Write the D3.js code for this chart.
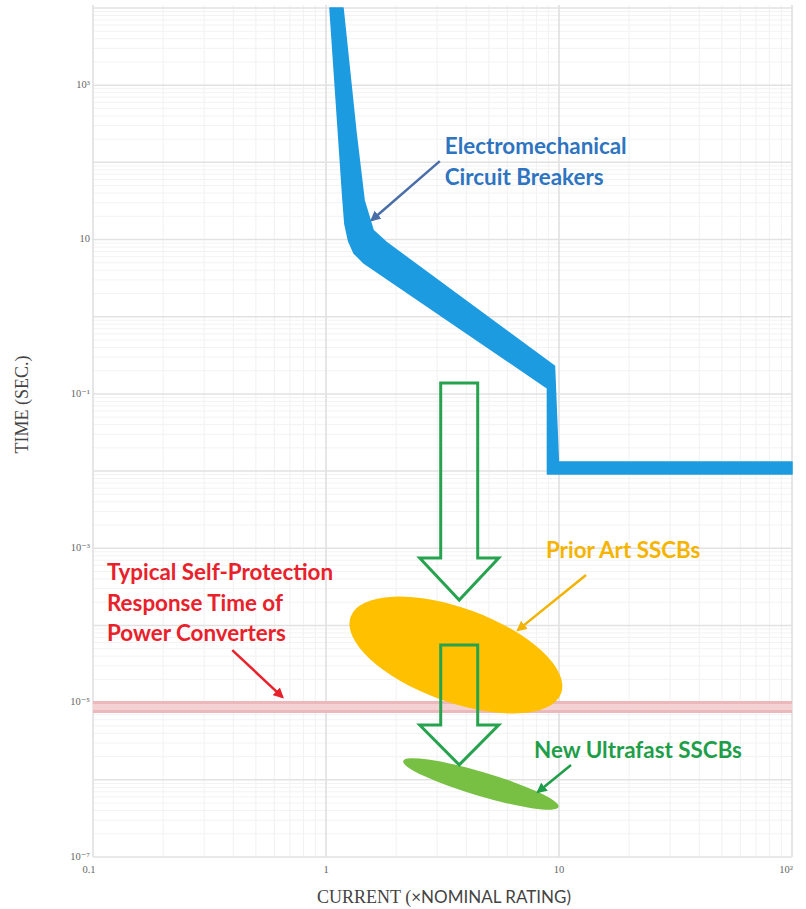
<!DOCTYPE html>
<html><head><meta charset="utf-8">
<script src="https://cdn.jsdelivr.net/npm/d3@7"></script>
<style>body{margin:0;background:#fff}svg{display:block}</style>
</head><body>
<svg id="chart" width="806" height="909"></svg>
<script>
// ---- data ----
const xTickValues = [0.1, 1, 10, 100];
const xTickLabels = ["0.1", "1", "10", "10²"];
const yTickValues = [1e3, 1e1, 1e-1, 1e-3, 1e-5, 1e-7];
const yTickLabels = ["10³", "10", "10⁻¹", "10⁻³", "10⁻⁵", "10⁻⁷"];

// Electromechanical breaker trip band [current (x nominal), time (s)]
const emcbUpper = [[1.183,1e4],[1.346,239],[1.457,32.4],[1.593,13.2],[1.81,9.25],[9.56,0.229],[9.94,0.0131],[100,0.0131]];
const emcbLower = [[1.040,1e4],[1.183,32.4],[1.205,16],[1.25,9.6],[1.319,6.67],[1.457,4.94],[8.92,0.119],[8.92,0.00914],[100,0.00914]];

// Power converter self-protection time
const converterTime = [8.8e-6];

// SSCB regions: centre [current, time]
const priorArtCenter = [3.61, 4.14e-5];
const ultrafastCenter = [4.62, 8.83e-7];

// Hollow "improvement" arrows: current, top time, head-base time, tip time
const bigArrows = [
  {current: 3.73, top: 0.138, base: 7.46e-4, tip: 2.13e-4},
  {current: 3.73, top: 5.57e-5, base: 5.13e-6, tip: 1.56e-6}
];

// Annotations [current, time]
const labels = [
  {lines: ["Electromechanical", "Circuit Breakers"], at: [3.235, 127.7], color: "#2e74c0"},
  {lines: ["Prior Art SSCBs"], at: [8.79, 7.46e-4], color: "#f5b400"},
  {lines: ["Typical Self-Protection", "Response Time of", "Power Converters"], at: [0.1148, 3.87e-4], color: "#e8212b"},
  {lines: ["New Ultrafast SSCBs"], at: [7.81, 1.91e-6], color: "#1f9e4a"}
];
const pointers = [
  {from: [3.08, 103.7], to: [1.57, 17.8], color: "#4a6ea8"},
  {from: [13.06, 4.5e-4], to: [6.66, 8.7e-5], color: "#f2b200"},
  {from: [0.396, 4.8e-5], to: [0.650, 1.18e-5], color: "#e8212b"},
  {from: [11.26, 1.56e-6], to: [8.12, 6.95e-7], color: "#1f9e4a"}
];

// ---- chart ----
const svg = d3.select("#chart");
const x = d3.scaleLog().domain([0.1, 100]).range([93, 792]);
const y = d3.scaleLog().domain([1e-7, 1e4]).range([857, 8]);
const [x0, x1] = x.range();
const [y0, y1] = y.range();

const grid = svg.append("g");
const isPow = v => Math.abs(Math.log10(v) - Math.round(Math.log10(v))) < 1e-9;
const xt = x.ticks(50), yt = y.ticks(100);
grid.selectAll(".vx").data(xt.filter(v => !isPow(v))).join("line")
  .attr("x1", d => x(d)).attr("x2", d => x(d)).attr("y1", y1 - 3).attr("y2", y0)
  .attr("stroke", "#f1f1f1").attr("stroke-width", 1);
grid.selectAll(".hy").data(yt.filter(v => !isPow(v))).join("line")
  .attr("y1", d => y(d)).attr("y2", d => y(d)).attr("x1", x0).attr("x2", x1)
  .attr("stroke", "#f3f3f3").attr("stroke-width", 1);
grid.selectAll(".vxm").data(xt.filter(isPow)).join("line")
  .attr("x1", d => x(d)).attr("x2", d => x(d)).attr("y1", y1 - 3).attr("y2", y0)
  .attr("stroke", "#dedede").attr("stroke-width", 1.5);
grid.selectAll(".hym").data(yt.filter(isPow)).join("line")
  .attr("y1", d => y(d)).attr("y2", d => y(d)).attr("x1", x0).attr("x2", x1)
  .attr("stroke", "#e2e2e2").attr("stroke-width", 1.5);

// tick labels
const tickFont = "'Liberation Serif','DejaVu Serif',serif";
svg.append("g").selectAll("text").data(yTickValues).join("text")
  .attr("x", x0 - 3).attr("y", d => y(d) - 1).attr("dy", "0.35em")
  .attr("text-anchor", "end").attr("font-family", tickFont).attr("font-size", 10.5)
  .attr("fill", "#666").text((d, i) => yTickLabels[i]);
svg.append("g").selectAll("text").data(xTickValues).join("text")
  .attr("x", (d, i) => x(d) + (i === 0 ? -4 : i === 3 ? -6 : 0)).attr("y", y0 + 16)
  .attr("text-anchor", "middle").attr("font-family", tickFont).attr("font-size", 10.5)
  .attr("fill", "#666").text((d, i) => xTickLabels[i]);

// axis titles
svg.append("text").attr("transform", `translate(28,${(y0 + y1) / 2 - 28}) rotate(-90)`)
  .attr("text-anchor", "middle").attr("font-family", tickFont).attr("font-size", 18)
  .attr("fill", "#444").text("TIME (SEC.)");
const xt2 = svg.append("text").attr("x", 317).attr("y", y0 + 46)
  .attr("fill", "#444");
xt2.append("tspan").attr("font-family", tickFont).attr("font-size", 18).text("CURRENT (");
xt2.append("tspan").attr("font-family", "Lato, sans-serif").attr("font-size", 17).text("×NOMINAL RATING)");

// converter line
svg.append("line").attr("x1", x0).attr("x2", x1)
  .attr("y1", y(converterTime[0])).attr("y2", y(converterTime[0]))
  .attr("stroke", "#ebb8bc").attr("stroke-width", 12);
svg.append("line").attr("x1", x0).attr("x2", x1)
  .attr("y1", y(converterTime[0])).attr("y2", y(converterTime[0]))
  .attr("stroke", "#f4d2d4").attr("stroke-width", 6);

// EMCB band
const band = emcbUpper.concat(emcbLower.slice().reverse());
svg.append("path").attr("d", d3.line().x(d => x(d[0])).y(d => y(d[1]))(band) + "Z")
  .attr("fill", "#1d9be0").attr("stroke", "#1d9be0").attr("stroke-width", 1.5)
  .attr("stroke-linejoin", "round");

// ellipses
svg.append("ellipse").attr("cx", x(priorArtCenter[0])).attr("cy", y(priorArtCenter[1]))
  .attr("rx", 112).attr("ry", 47)
  .attr("transform", `rotate(20 ${x(priorArtCenter[0])} ${y(priorArtCenter[1])})`)
  .attr("fill", "#ffc000");
svg.append("ellipse").attr("cx", x(ultrafastCenter[0])).attr("cy", y(ultrafastCenter[1]))
  .attr("rx", 81).attr("ry", 12)
  .attr("transform", `rotate(16.5 ${x(ultrafastCenter[0])} ${y(ultrafastCenter[1])})`)
  .attr("fill", "#78c043");

// hollow arrows
const shaftHalf = 18.5, headHalf = 39.5;
svg.append("g").selectAll("path").data(bigArrows).join("path")
  .attr("d", d => {
    const cx = x(d.current), t = y(d.top), b = y(d.base), p = y(d.tip);
    return d3.line()([[cx - shaftHalf, t], [cx + shaftHalf, t], [cx + shaftHalf, b], [cx + headHalf, b],
      [cx, p], [cx - headHalf, b], [cx - shaftHalf, b]]) + "Z";
  })
  .attr("fill", "none").attr("stroke", "#27a24f").attr("stroke-width", 3);

// pointers
const defs = svg.append("defs");
pointers.forEach((p, i) => {
  defs.append("marker").attr("id", "m" + i).attr("viewBox", "0 0 10 10")
    .attr("refX", 8).attr("refY", 5).attr("markerWidth", 4.2).attr("markerHeight", 4.2)
    .attr("orient", "auto").attr("markerUnits", "strokeWidth")
    .append("path").attr("d", "M0,0L10,5L0,10Z").attr("fill", p.color);
});
svg.append("g").selectAll("line").data(pointers).join("line")
  .attr("x1", d => x(d.from[0])).attr("y1", d => y(d.from[1]))
  .attr("x2", d => x(d.to[0])).attr("y2", d => y(d.to[1]))
  .attr("stroke", d => d.color).attr("stroke-width", 2.5)
  .attr("marker-end", (d, i) => `url(#m${i})`);

// labels
labels.forEach(l => {
  const t = svg.append("text").attr("x", x(l.at[0])).attr("y", y(l.at[1]))
    .attr("font-family", "Lato, 'Open Sans', sans-serif").attr("font-weight", "bold")
    .attr("font-size", 22.4).attr("fill", l.color);
  l.lines.forEach((s, i) => t.append("tspan").attr("x", x(l.at[0])).attr("dy", i ? 30.5 : 0).text(s));
});
</script>
</body></html>
